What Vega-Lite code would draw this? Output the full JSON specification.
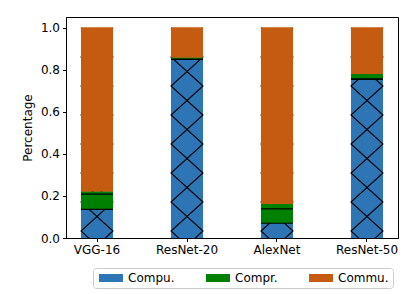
{
  "$schema": "https://vega.github.io/schema/vega-lite/v6.json",
  "width": 332,
  "height": 221,
  "autosize": {"type": "none"},
  "padding": {"left": 66, "top": 17, "right": 17, "bottom": 56},
  "background": "white",
  "config": {
    "font": "DejaVu Sans",
    "view": {"stroke": "black", "strokeWidth": 1},
    "axis": {
      "domainColor": "black",
      "tickColor": "black",
      "tickSize": 3.5,
      "labelFontSize": 12,
      "labelColor": "black",
      "labelFont": "DejaVu Sans",
      "titleFont": "DejaVu Sans",
      "titleFontSize": 12,
      "titleFontWeight": "normal",
      "titleColor": "black",
      "grid": false
    }
  },
  "data": {
    "values": [
      {"model": "VGG-16", "part": "Compu.", "seg": 1, "value": 0.136},
      {"model": "VGG-16", "part": "Compr.", "seg": 2, "value": 0.072},
      {"model": "VGG-16", "part": "Compr.", "seg": 3, "value": 0.013},
      {"model": "VGG-16", "part": "Commu.", "seg": 4, "value": 0.779},
      {"model": "ResNet-20", "part": "Compu.", "seg": 1, "value": 0.849},
      {"model": "ResNet-20", "part": "Compr.", "seg": 2, "value": 0.0},
      {"model": "ResNet-20", "part": "Compr.", "seg": 3, "value": 0.008},
      {"model": "ResNet-20", "part": "Commu.", "seg": 4, "value": 0.143},
      {"model": "AlexNet", "part": "Compu.", "seg": 1, "value": 0.070},
      {"model": "AlexNet", "part": "Compr.", "seg": 2, "value": 0.068},
      {"model": "AlexNet", "part": "Compr.", "seg": 3, "value": 0.023},
      {"model": "AlexNet", "part": "Commu.", "seg": 4, "value": 0.839},
      {"model": "ResNet-50", "part": "Compu.", "seg": 1, "value": 0.755},
      {"model": "ResNet-50", "part": "Compr.", "seg": 2, "value": 0.0},
      {"model": "ResNet-50", "part": "Compr.", "seg": 3, "value": 0.024},
      {"model": "ResNet-50", "part": "Commu.", "seg": 4, "value": 0.221}
    ]
  },
  "transform": [
    {"stack": "value", "groupby": ["model"], "sort": [{"field": "seg", "order": "ascending"}], "as": ["y0", "y1"]}
  ],
  "encoding": {
    "x": {
      "field": "model",
      "type": "nominal",
      "sort": ["VGG-16", "ResNet-20", "AlexNet", "ResNet-50"],
      "scale": {"paddingInner": 0.644, "paddingOuter": 0.1665},
      "axis": {"title": null, "labelAngle": 0, "labelPadding": 3}
    }
  },
  "layer": [
    {
      "mark": {"type": "bar", "clip": true},
      "encoding": {
        "y": {
          "field": "y0",
          "type": "quantitative",
          "scale": {"domain": [0, 1.05], "nice": false, "zero": true},
          "axis": {"title": "Percentage", "values": [0, 0.2, 0.4, 0.6, 0.8, 1.0], "format": ".1f", "titlePadding": 6, "labelPadding": 3}
        },
        "y2": {"field": "y1"},
        "color": {
          "field": "part",
          "type": "nominal",
          "scale": {"domain": ["Compu.", "Compr.", "Commu."], "range": ["#2E75B6", "#008000", "#C55A11"]},
          "legend": {
            "title": null,
            "orient": "none",
            "legendX": 27,
            "legendY": 251,
            "direction": "horizontal",
            "columns": 3,
            "strokeColor": "#cccccc",
            "cornerRadius": 3,
            "padding": 4,
            "columnPadding": 29,
            "symbolType": "M-1,-1H5V1H-1Z",
            "symbolSize": 64,
            "symbolStrokeWidth": 0,
            "labelFontSize": 12,
            "labelFont": "DejaVu Sans",
            "labelColor": "black",
            "labelOffset": 19
          }
        }
      }
    },
    {
      "transform": [{"filter": "datum.seg == 1"}],
      "mark": {
        "type": "point",
        "clip": true,
        "filled": false,
        "stroke": "black",
        "strokeWidth": 1.1,
        "opacity": 1,
        "size": 1024,
        "shape": "M-1,1.375L1,-0.4375L-1,-2.25L1,-4.0625L-1,-5.875L1,-7.6875L-1,-9.5L1,-11.3125L-1,-13.125M1,1.375L-1,-0.4375L1,-2.25L-1,-4.0625L1,-5.875L-1,-7.6875L1,-9.5L-1,-11.3125L1,-13.125"
      },
      "encoding": {
        "y": {"field": "y0", "type": "quantitative"}
      }
    },
    {
      "transform": [{"filter": "datum.seg > 1"}],
      "mark": {"type": "bar", "clip": true},
      "encoding": {
        "y": {"field": "y0", "type": "quantitative"},
        "y2": {"field": "y1"},
        "color": {"field": "part", "type": "nominal"}
      }
    },
    {
      "transform": [{"filter": "datum.seg <= 2"}],
      "mark": {"type": "tick", "color": "black", "thickness": 1.2, "size": 32, "opacity": 1},
      "encoding": {
        "y": {"field": "y1", "type": "quantitative"}
      }
    }
  ]
}
